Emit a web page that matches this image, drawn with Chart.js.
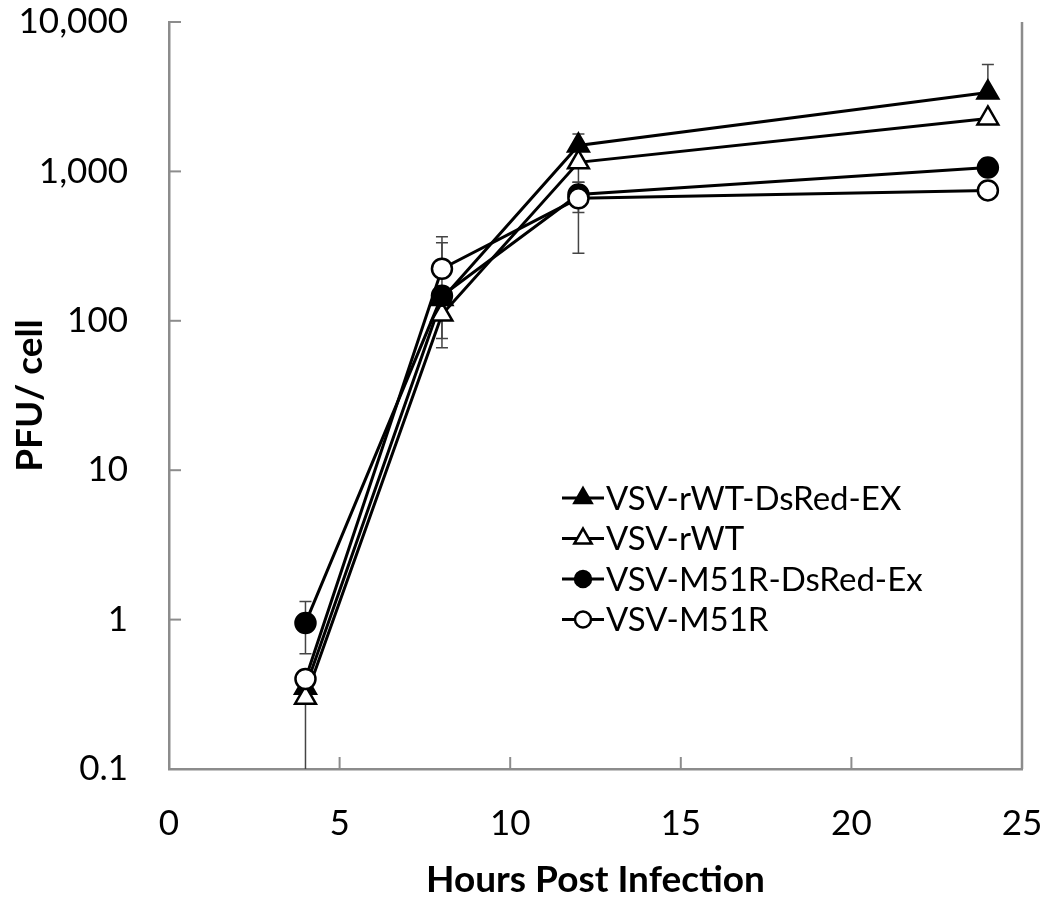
<!DOCTYPE html>
<html>
<head>
<meta charset="utf-8">
<script src="https://cdn.jsdelivr.net/npm/chart.js@4.4.1/dist/chart.umd.min.js"></script>
<style>
  html, body { margin: 0; padding: 0; background: #fff; }
  #wrap { width: 1050px; height: 902px; }
</style>
</head>
<body>
<div id="wrap"><canvas id="growthChart" width="1050" height="902"></canvas></div>
<script>
// hours post infection
const hours = [4, 8, 12, 24];
const xTicks = [0, 5, 10, 15, 20, 25];
const yTicks = [0.1, 1, 10, 100, 1000, 10000];

const seriesNames = ["VSV-rWT-DsRed-EX", "VSV-rWT", "VSV-M51R-DsRed-Ex", "VSV-M51R"];

// PFU / cell
const rwtDsRed = [0.35, 140, 1490, 3370];
const rwt = [0.30, 110, 1150, 2260];
const m51rDsRed = [0.95, 147, 700, 1060];
const m51r = [0.40, 223, 660, 746];

// error bar ends (absolute values, null = none visible)
const rwtDsRedHi = [null, null, 1780, 5200];
const rwtDsRedLo = [null, 66, null, null];
const rwtHi = [null, null, null, null];
const rwtLo = [0.1, 76, 845, null];
const m51rDsRedHi = [1.32, 333, null, null];
const m51rDsRedLo = [0.59, null, 530, null];
const m51rHi = [null, 365, 845, null];
const m51rLo = [null, null, 283, null];

const FONT = "Lato, 'Open Sans', sans-serif";

const toPoints = (vals) => hours.map((h, i) => ({ x: h, y: vals[i] }));

const makeSet = (i, vals, hi, lo, style, fill, radius, order) => ({
  label: seriesNames[i],
  data: toPoints(vals),
  errHi: hi,
  errLo: lo,
  borderColor: "#000",
  borderWidth: 3,
  pointStyle: style,
  pointRadius: radius,
  pointHoverRadius: radius,
  pointBackgroundColor: fill,
  pointBorderColor: "#000",
  pointBorderWidth: 2.5,
  tension: 0,
  fill: false,
  order: order
});

// error bars drawn under the markers
const errorBars = {
  id: "errorBars",
  beforeDatasetsDraw(chart) {
    const { ctx, scales: { x, y } } = chart;
    ctx.save();
    ctx.strokeStyle = "#444";
    ctx.lineWidth = 1.5;
    chart.data.datasets.forEach((ds) => {
      ds.data.forEach((p, i) => {
        const px = x.getPixelForValue(p.x);
        const py = y.getPixelForValue(p.y);
        [ds.errHi[i], ds.errLo[i]].forEach((v) => {
          if (v == null) return;
          const ey = y.getPixelForValue(v);
          ctx.beginPath();
          ctx.moveTo(px, py);
          ctx.lineTo(px, ey);
          if (v > y.min) {
            ctx.moveTo(px - 6, ey);
            ctx.lineTo(px + 6, ey);
          }
          ctx.stroke();
        });
      });
    });
    ctx.restore();
  }
};

// inward tick marks and right frame line
const innerTicks = {
  id: "innerTicks",
  beforeDatasetsDraw(chart) {
    const { ctx, chartArea: a, scales: { x, y } } = chart;
    ctx.save();
    ctx.strokeStyle = "#8c8c8c";
    ctx.lineWidth = 2;
    yTicks.forEach((v) => {
      const py = y.getPixelForValue(v);
      ctx.beginPath();
      ctx.moveTo(a.left, py);
      ctx.lineTo(a.left + 12, py);
      ctx.stroke();
    });
    xTicks.forEach((v) => {
      const px = x.getPixelForValue(v);
      ctx.beginPath();
      ctx.moveTo(px, a.bottom);
      ctx.lineTo(px, a.bottom - 12);
      ctx.stroke();
    });
    ctx.lineWidth = 2.5;
    ctx.beginPath();
    ctx.moveTo(a.right, a.top);
    ctx.lineTo(a.right, a.bottom);
    ctx.stroke();
    ctx.restore();
  }
};

// legend inside the plot
const innerLegend = {
  id: "innerLegend",
  afterDraw(chart, args, opts) {
    const { ctx } = chart;
    ctx.save();
    ctx.font = "33px " + FONT;
    ctx.fillStyle = "#000";
    ctx.textBaseline = "middle";
    chart.data.datasets.forEach((ds, i) => {
      const cy = opts.top + i * opts.rowGap;
      ctx.strokeStyle = "#000";
      ctx.lineWidth = 3;
      ctx.beginPath();
      ctx.moveTo(opts.left, cy);
      ctx.lineTo(opts.left + 42, cy);
      ctx.stroke();
      ctx.fillStyle = ds.pointBackgroundColor;
      ctx.strokeStyle = "#000";
      ctx.lineWidth = 2.5;
      Chart.helpers.drawPoint(ctx, {
        pointStyle: ds.pointStyle,
        radius: ds.pointStyle === "triangle" ? 10 : 8,
        rotation: 0,
        borderWidth: 2.5
      }, opts.left + 21, cy);
      ctx.fillStyle = "#000";
      ctx.fillText(ds.label, opts.left + 44, cy + 1);
    });
    ctx.restore();
  }
};

new Chart(document.getElementById("growthChart"), {
  type: "line",
  data: {
    datasets: [
      makeSet(0, rwtDsRed, rwtDsRedHi, rwtDsRedLo, "triangle", "#000", 12, 3),
      makeSet(1, rwt, rwtHi, rwtLo, "triangle", "#fff", 12, 2),
      makeSet(2, m51rDsRed, m51rDsRedHi, m51rDsRedLo, "circle", "#000", 10, 1),
      makeSet(3, m51r, m51rHi, m51rLo, "circle", "#fff", 10, 0)
    ]
  },
  options: {
    responsive: false,
    animation: false,
    devicePixelRatio: 1,
    layout: { padding: { top: 22, right: 28, bottom: 0, left: 0 } },
    plugins: {
      legend: { display: false },
      tooltip: { enabled: false },
      innerLegend: { left: 562, top: 498, rowGap: 40.5 }
    },
    scales: {
      x: {
        type: "linear",
        min: 0,
        max: 25,
        afterBuildTicks: (s) => { s.ticks = xTicks.map((v) => ({ value: v })); },
        afterFit: (s) => {
          s.height = 133;
          s.paddingLeft = 0;
          s.paddingRight = 0;
        },
        grid: { display: false, drawTicks: false },
        border: { display: true, color: "#8c8c8c", width: 2.5 },
        ticks: { color: "#000", padding: 34, font: { family: FONT, size: 35 } },
        title: {
          display: true,
          text: "Hours Post Infection",
          color: "#000",
          padding: { top: 0, bottom: 0 },
          font: { family: FONT, size: 37, weight: "bold" }
        }
      },
      y: {
        type: "logarithmic",
        min: 0.1,
        max: 10000,
        afterBuildTicks: (s) => { s.ticks = yTicks.map((v) => ({ value: v })); },
        afterFit: (s) => {
          s.width = 169;
          s.paddingTop = 0;
          s.paddingBottom = 0;
        },
        grid: { display: false, drawTicks: false },
        border: { display: true, color: "#8c8c8c", width: 2.5 },
        ticks: {
          color: "#000",
          padding: 41,
          font: { family: FONT, size: 35 },
          callback: (v) => v.toLocaleString("en-US")
        },
        title: {
          display: true,
          text: "PFU/ cell",
          color: "#000",
          padding: { top: 8, bottom: 0 },
          font: { family: FONT, size: 37, weight: "bold" }
        }
      }
    }
  },
  plugins: [errorBars, innerTicks, innerLegend]
});
</script>
</body>
</html>
